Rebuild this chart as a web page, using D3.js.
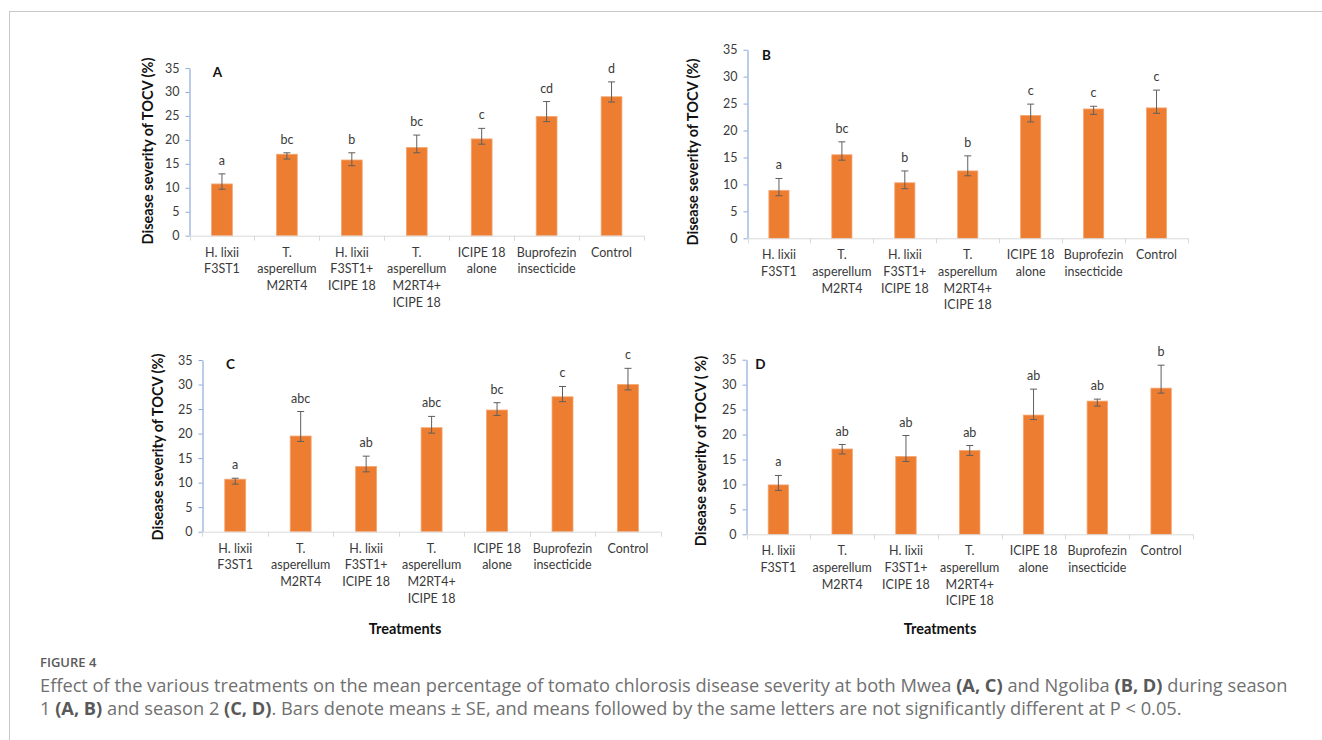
<!DOCTYPE html>
<html>
<head>
<meta charset="utf-8">
<script src="https://cdn.jsdelivr.net/npm/d3@7"></script>
<style>
  html, body { margin: 0; padding: 0; background: #fff; }
  svg { display: block; }
</style>
</head>
<body>
<svg id="fig" width="1322" height="740"></svg>
<script>
// Treatments (x categories), each split into its printed lines
const categories = [
  ["H.  lixii", "F3ST1"],
  ["T.", "asperellum", "M2RT4"],
  ["H. lixii", "F3ST1+", "ICIPE 18"],
  ["T.", "asperellum", "M2RT4+", "ICIPE 18"],
  ["ICIPE 18", "alone"],
  ["Buprofezin", "insecticide"],
  ["Control"]
];
const yTicks = [0, 5, 10, 15, 20, 25, 30, 35];

// Panel A: Mwea, season 1
const meanA = [10.8, 17.0, 15.8, 18.4, 20.2, 24.9, 29.0];
const lowA  = [9.7, 16.0, 14.6, 17.3, 19.1, 23.8, 27.9];
const highA = [12.9, 17.3, 17.3, 21.0, 22.4, 28.0, 32.1];
const lettersA = ["a", "bc", "b", "bc", "c", "cd", "d"];

// Panel B: Ngoliba, season 1
const meanB = [8.9, 15.5, 10.3, 12.5, 22.8, 24.0, 24.2];
const lowB  = [7.9, 14.5, 9.2, 11.6, 21.6, 23.0, 23.2];
const highB = [11.1, 17.9, 12.5, 15.3, 24.9, 24.5, 27.5];
const lettersB = ["a", "bc", "b", "b", "c", "c", "c"];

// Panel C: Mwea, season 2
const meanC = [10.7, 19.5, 13.3, 21.2, 24.8, 27.5, 30.0];
const lowC  = [9.7, 18.4, 12.2, 20.1, 23.7, 26.5, 28.9];
const highC = [10.9, 24.5, 15.4, 23.5, 26.3, 29.6, 33.3];
const lettersC = ["a", "abc", "ab", "abc", "bc", "c", "c"];

// Panel D: Ngoliba, season 2
const meanD = [9.9, 17.1, 15.6, 16.8, 23.9, 26.7, 29.3];
const lowD  = [8.8, 16.1, 14.6, 15.8, 23.0, 25.7, 28.3];
const highD = [11.8, 18.0, 19.8, 17.8, 29.1, 27.1, 33.9];
const lettersD = ["a", "ab", "ab", "ab", "ab", "ab", "b"];

const chartFont = "Lato, 'Open Sans', sans-serif";
const barColor = "#ED7D31";
const textColor = "#3a3a3a";

const svg = d3.select("#fig");

// Outer frame of the figure block
svg.append("line").attr("x1", 9).attr("x2", 1322).attr("y1", 11.5).attr("y2", 11.5)
  .attr("stroke", "#c8c8c8").attr("stroke-width", 1);
svg.append("line").attr("x1", 9.5).attr("x2", 9.5).attr("y1", 11).attr("y2", 740)
  .attr("stroke", "#c8c8c8").attr("stroke-width", 1);

const panels = [
  { letter: "A", mean: meanA, low: lowA, high: highA, letters: lettersA,
    x0: 189.5, x1: 644, yZero: 235.7, yTop: 68,
    yTitle: "Disease severity of TOCV (%)", yTitleX: 148, yTitleY: 151,
    letterDx: 28, letterDy: 5, xTitle: null },
  { letter: "B", mean: meanB, low: lowB, high: highB, letters: lettersB,
    x0: 747.5, x1: 1188, yZero: 238.3, yTop: 49.7,
    yTitle: "Disease severity of TOCV (%)", yTitleX: 693, yTitleY: 152,
    letterDx: 19, letterDy: 6, xTitle: null },
  { letter: "C", mean: meanC, low: lowC, high: highC, letters: lettersC,
    x0: 202.5, x1: 660.7, yZero: 531.7, yTop: 360,
    yTitle: "Disease severity of TOCV (%)", yTitleX: 158, yTitleY: 447,
    letterDx: 28, letterDy: 5, xTitle: { x: 405, y: 629, text: "Treatments" } },
  { letter: "D", mean: meanD, low: lowD, high: highD, letters: lettersD,
    x0: 746.5, x1: 1193, yZero: 534.3, yTop: 359.7,
    yTitle: "Disease severity of TOCV ( %)", yTitleX: 701, yTitleY: 451,
    letterDx: 14, letterDy: 5, xTitle: { x: 940, y: 629, text: "Treatments" } }
];

panels.forEach(p => {
  const g = svg.append("g");
  const idx = d3.range(categories.length);

  const y = d3.scaleLinear().domain([0, 35]).range([p.yZero, p.yTop]);
  const slots = d3.scaleBand().domain(idx).range([p.x0, p.x1]).padding(0);
  const x = d3.scaleBand().domain(idx).range([p.x0, p.x1])
    .paddingInner(0.68).paddingOuter(0.34);

  // Bars
  g.selectAll("rect.bar").data(idx).join("rect")
    .attr("class", "bar")
    .attr("x", i => x(i))
    .attr("width", x.bandwidth())
    .attr("y", i => y(p.mean[i]))
    .attr("height", i => y(0) - y(p.mean[i]))
    .attr("fill", barColor)
    .attr("stroke", "#f4a672")
    .attr("stroke-width", 0.8);

  // Error bars
  const cx = i => x(i) + x.bandwidth() / 2;
  const eb = g.selectAll("g.err").data(idx).join("g").attr("class", "err")
    .attr("stroke", "#5f5f5f").attr("stroke-width", 1);
  eb.append("line").attr("x1", cx).attr("x2", cx)
    .attr("y1", i => y(p.low[i])).attr("y2", i => y(p.high[i]));
  eb.append("line").attr("x1", i => cx(i) - 3.5).attr("x2", i => cx(i) + 3.5)
    .attr("y1", i => y(p.low[i])).attr("y2", i => y(p.low[i]));
  eb.append("line").attr("x1", i => cx(i) - 3.5).attr("x2", i => cx(i) + 3.5)
    .attr("y1", i => y(p.high[i])).attr("y2", i => y(p.high[i]));

  // Significance letters
  g.selectAll("text.sig").data(idx).join("text")
    .attr("class", "sig")
    .attr("x", cx)
    .attr("y", i => y(p.high[i]) - 9)
    .attr("text-anchor", "middle")
    .attr("font-family", chartFont).attr("font-size", 12.5)
    .attr("fill", textColor)
    .text(i => p.letters[i]);

  // Y axis
  const yAxis = g.append("g").attr("transform", `translate(${p.x0},0)`)
    .call(d3.axisLeft(y).tickValues(yTicks).tickSize(4).tickSizeOuter(0).tickPadding(6));
  yAxis.select(".domain").attr("stroke", "#8eaadb").attr("stroke-width", 1.2);
  yAxis.selectAll(".tick line").attr("stroke", "#8eaadb");
  yAxis.selectAll(".tick text").attr("font-family", chartFont).attr("font-size", 12.5)
    .attr("fill", textColor);

  // X axis baseline with slot separators
  const xg = g.append("g");
  xg.append("line").attr("x1", p.x0).attr("x2", p.x1)
    .attr("y1", p.yZero + 0.5).attr("y2", p.yZero + 0.5)
    .attr("stroke", "#d9d9d9").attr("stroke-width", 1);
  const bounds = idx.map(i => slots(i)).concat([p.x1]);
  xg.selectAll("line.sep").data(bounds).join("line").attr("class", "sep")
    .attr("x1", d => Math.round(d) + 0.5).attr("x2", d => Math.round(d) + 0.5)
    .attr("y1", p.yZero).attr("y2", p.yZero + 5)
    .attr("stroke", "#d9d9d9");

  // Category labels
  const lab = xg.selectAll("text.cat").data(idx).join("text").attr("class", "cat")
    .attr("text-anchor", "middle")
    .attr("font-family", chartFont).attr("font-size", 12.5)
    .attr("fill", textColor);
  lab.each(function(i) {
    const t = d3.select(this);
    categories[i].forEach((line, k) => {
      t.append("tspan")
        .attr("x", slots(i) + slots.bandwidth() / 2)
        .attr("y", p.yZero + 21 + k * 16.7)
        .text(line);
    });
  });

  // Panel letter
  g.append("text").attr("x", p.x0 + p.letterDx).attr("y", p.yTop + p.letterDy + 4)
    .attr("text-anchor", "middle")
    .attr("font-family", chartFont).attr("font-size", 13.5).attr("font-weight", "bold")
    .attr("fill", "#111").text(p.letter);

  // Y title
  g.append("text")
    .attr("transform", `translate(${p.yTitleX},${p.yTitleY}) rotate(-90)`)
    .attr("text-anchor", "middle").attr("dy", "0.35em")
    .attr("font-family", chartFont).attr("font-size", 14.5).attr("font-weight", "bold")
    .attr("fill", "#111").text(p.yTitle);

  if (p.xTitle) {
    g.append("text").attr("x", p.xTitle.x).attr("y", p.xTitle.y).attr("dy", "0.35em")
      .attr("text-anchor", "middle")
      .attr("font-family", chartFont).attr("font-size", 14.5).attr("font-weight", "bold")
      .attr("fill", "#111").text(p.xTitle.text);
  }
});

// Caption
const capFont = "'Open Sans', Lato, sans-serif";
svg.append("text").attr("x", 40).attr("y", 667)
  .attr("font-family", capFont).attr("font-size", 13).attr("font-weight", 600)
  .attr("fill", "#5a5a5a").text("FIGURE 4");

const captionLines = [
  [["Effect of the various treatments on the mean percentage of tomato chlorosis disease severity at both Mwea ", false],
   ["(A, C)", true], [" and Ngoliba ", false], ["(B, D)", true], [" during season", false]],
  [["1 ", false], ["(A, B)", true], [" and season 2 ", false], ["(C, D)", true],
   [". Bars denote means ± SE, and means followed by the same letters are not significantly different at P < 0.05.", false]]
];
const capTexts = captionLines.map((segs, li) => {
  const t = svg.append("text").attr("x", 40).attr("y", 692 + li * 22.5)
    .attr("font-family", capFont).attr("font-size", 16).attr("fill", "#707070");
  segs.forEach(([s, b]) => {
    t.append("tspan").attr("font-weight", b ? 700 : 400)
      .attr("fill", b ? "#595959" : "#707070").text(s);
  });
  return t;
});
// Fit the first caption line to the printed column width
const w0 = capTexts[0].node().getComputedTextLength();
const fs = 16 * 1248 / w0;
capTexts.forEach(t => t.attr("font-size", fs));
</script>
</body>
</html>
